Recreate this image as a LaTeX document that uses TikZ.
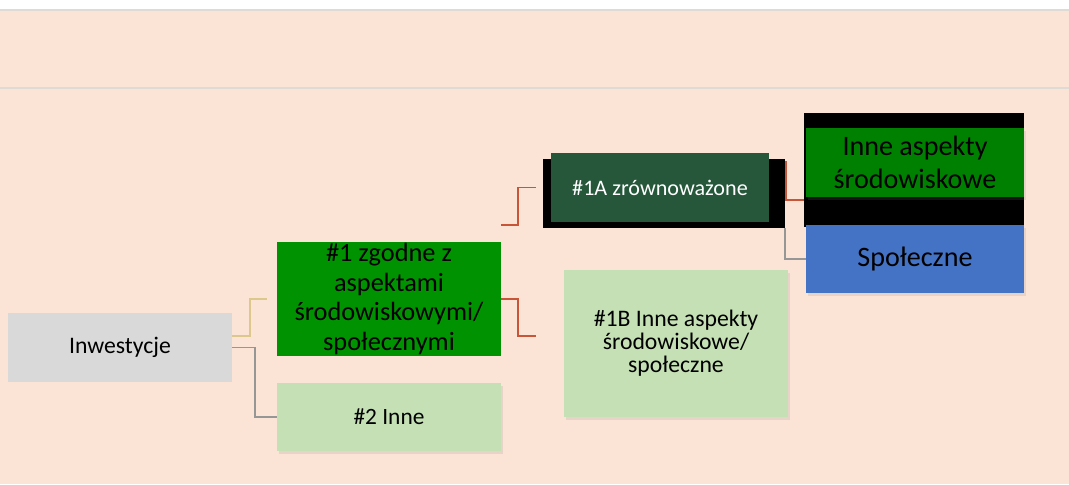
\documentclass[tikz,border=0pt]{standalone}
\usepackage{fontspec}
\setmainfont{Carlito}
\usepackage{xcolor}
\usetikzlibrary{calc, backgrounds, shadows}

\definecolor{peach}{RGB}{251,227,214}
\definecolor{rulegray}{RGB}{222,218,214}
\definecolor{invgray}{RGB}{217,217,217}
\definecolor{green1}{RGB}{0,146,0}
\definecolor{green2}{RGB}{0,128,0}
\definecolor{darkgreen}{RGB}{38,87,58}
\definecolor{lightgreen}{RGB}{197,224,180}
\definecolor{blue1}{RGB}{68,114,196}
\definecolor{lnred}{RGB}{200,85,55}
\definecolor{lnyel}{RGB}{218,200,140}
\definecolor{lngray}{RGB}{150,150,150}

\begin{document}
\begin{tikzpicture}[x=0.02cm, y=-0.02cm,
  box/.style={inner sep=0pt, minimum width=4.48cm, align=center, text=black},
  soft/.style={drop shadow={shadow xshift=1.2pt, shadow yshift=-1.5pt, opacity=.16}},
  link/.style={line width=1.1pt}
]
  \useasboundingbox (0,0) rectangle (1069,484);
  \begin{scope}[on background layer]
    \fill[white] (0,0) rectangle (1069,484);
    \fill[peach] (0,10) rectangle (1069,484);
    \draw[rulegray, line width=1pt] (0,10) -- (1069,10);
    \draw[rulegray, line width=1.2pt] (0,88) -- (1069,88);
  \end{scope}

  % boxes
  \node[box, fill=invgray, minimum height=1.38cm, font=\fontsize{13.5}{16}\selectfont] (inv) at (120,347.5) {Inwestycje};
  \node[box, fill=green1, minimum height=2.28cm, font=\fontsize{15}{17}\selectfont] (g1) at (389,299)
    {\#1 zgodne z\\aspektami\\środowiskowymi/\\społecznymi};
  \node[box, soft, fill=lightgreen, minimum height=1.36cm, font=\fontsize{13.3}{16}\selectfont] (g2) at (389,417) {\#2 Inne};
  \node[box, fill=black, minimum width=4.84cm, minimum height=1.38cm] (a1bk) at (664,193.5) {};
  \node[box, fill=darkgreen, text=white, minimum width=4.36cm, minimum height=1.38cm,
        font=\fontsize{12.6}{15}\selectfont] (a1) at (660,187.5) {\#1A zrównoważone};
  \node[box, soft, fill=lightgreen, minimum height=2.94cm, font=\fontsize{13.5}{13}\selectfont] (b1) at (676,343.5)
    {\#1B Inne aspekty\\środowiskowe/\\społeczne};
  \node[box, fill=black, minimum width=4.4cm, minimum height=2.28cm] (envbk) at (914,170) {};
  \node[box, soft, fill=green2, minimum width=4.36cm, minimum height=1.38cm,
        font=\fontsize{16}{18.7}\selectfont] (env) at (915,162.5) {Inne aspekty\\środowiskowe};
  \node[box, soft, fill=blue1, minimum width=4.36cm, minimum height=1.36cm,
        font=\fontsize{16}{19}\selectfont] (soc) at (915,259) {Społeczne};

  % connectors
  \begin{scope}[on background layer]
    \draw[link, lnyel] ($(inv.east)+(0,-11.5)$) -- ++(18,0) |- ($(g1.west)+(-10,0)$);
    \draw[link, lngray] (inv.east) -- ++(23,0) |- (g2.west);
    \draw[link, lnred] ($(g1.north east)+(0,-17)$) -- ++(17,0) |- ($(a1.west)+(-15,0)$);
    \draw[link, lnred] (g1.east) -- ++(17,0) |- ($(b1.west)+(-28,-7.5)$);
    \draw[link, lnred] ($(a1.east)+(0,-25.5)$) -- ++(17,0) |- ($(envbk.west)+(0,30)$);
    \draw[link, lngray] (a1bk.south east) |- (soc.west);
  \end{scope}
\end{tikzpicture}
\end{document}
